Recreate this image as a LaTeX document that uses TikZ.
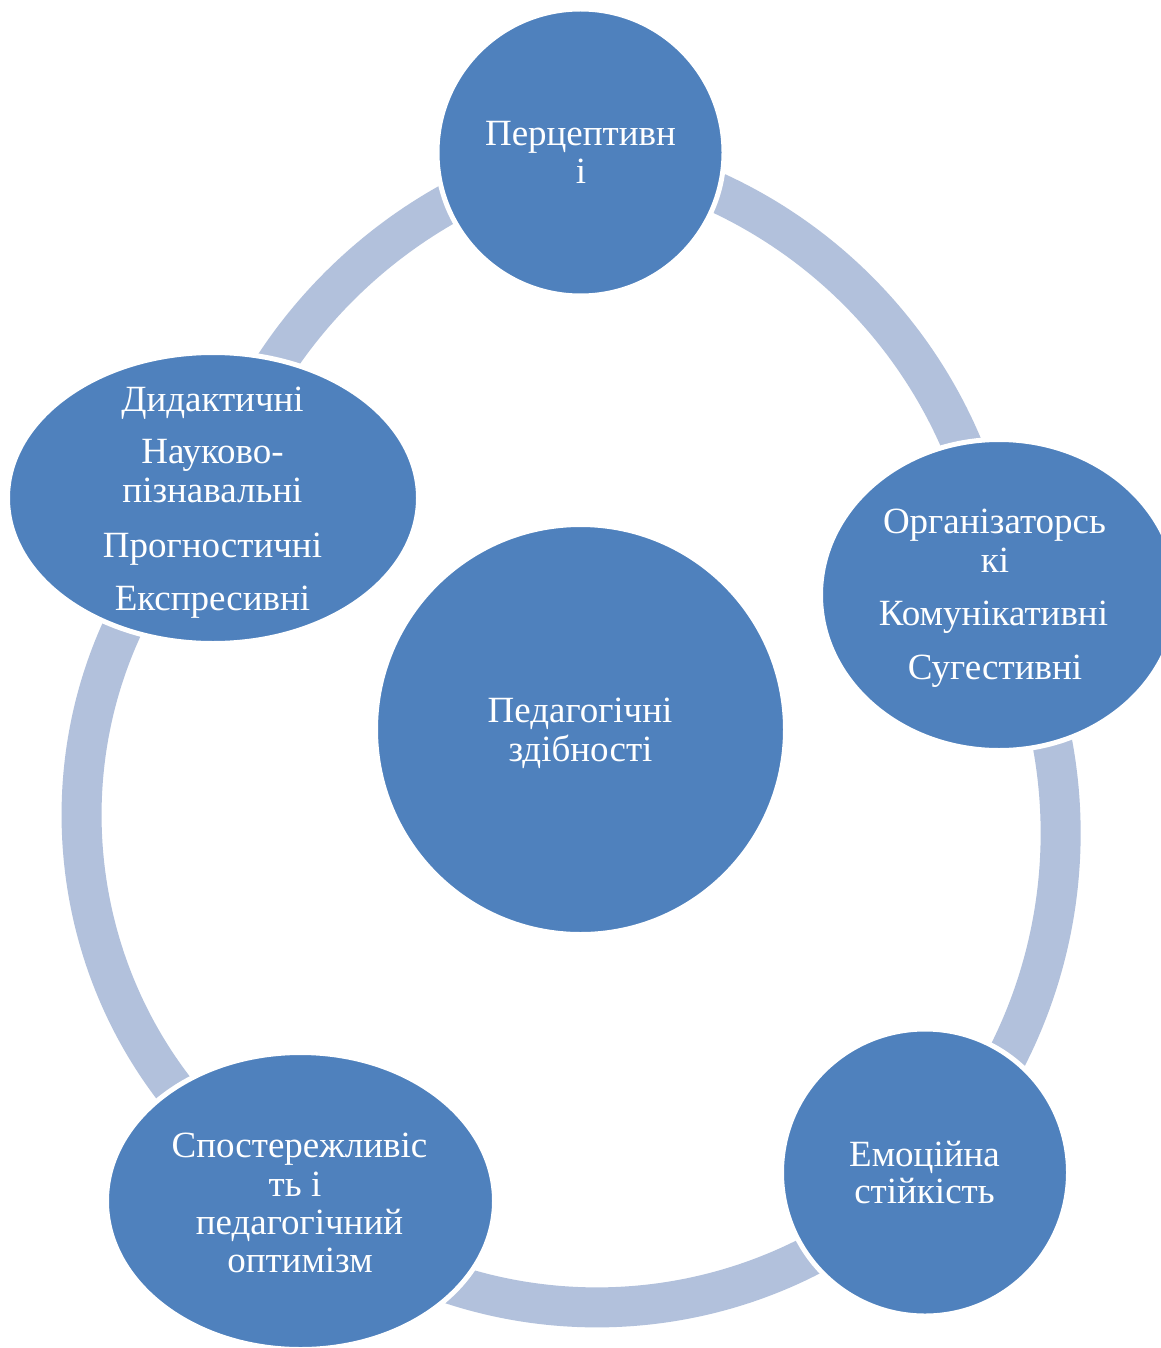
\documentclass[tikz,border=0pt]{standalone}
\usepackage{fontspec}
\setmainfont{Liberation Serif}
\usetikzlibrary{shapes.geometric}
\definecolor{nodeblue}{RGB}{79,129,189}
\definecolor{arcblue}{RGB}{178,193,220}
\pgfdeclarelayer{back}
\pgfsetlayers{back,main}
\begin{document}
\begin{tikzpicture}[x=1pt,y=-1pt,
  bubble/.style={fill=nodeblue, draw=white, line width=5pt, inner sep=0pt},
  roundbub/.style={bubble, circle},
  ovalbub/.style={bubble, ellipse},
  ring/.style={draw=arcblue, line width=40pt},
  lbl/.style={text=white, font=\fontsize{37}{42}\selectfont, inner sep=0pt, anchor=base}]
\useasboundingbox (0,0) rectangle (1160,1348);

% shapes
\node[roundbub, minimum size=410pt] (C) at (580.5,729.5) {};
\node[roundbub, minimum size=287pt] (T) at (580.5,152.5) {};
\node[ovalbub, minimum width=357pt, minimum height=311pt] (R) at (999,595) {};
\node[roundbub, minimum size=287pt] (BR) at (925,1172.5) {};
\node[ovalbub, minimum width=388pt, minimum height=297pt] (BL) at (300.5,1201) {};
\node[ovalbub, minimum width=411pt, minimum height=291pt] (L) at (213,498) {};

% connecting arcs (behind)
\begin{pgfonlayer}{back}
\fill[white] (0,0) rectangle (1160,1348);
\draw[ring] (L.center) .. controls (264.5,325.1) and (404.8,193.2) .. (T.center);
\draw[ring] (T.center) .. controls (806.2,184.1) and (980.0,367.8) .. (R.center);
\draw[ring] (R.center) .. controls (1103.2,783.0) and (1073.2,1016.8) .. (BR.center);
\draw[ring] (BR.center) .. controls (754.9,1340.8) and (485.2,1353.1) .. (BL.center);
\draw[ring] (BL.center) .. controls (49.3,1051.0) and (6.3,705.0) .. (L.center);
\end{pgfonlayer}

% texts
\node[lbl] (c1) at (580,722) {Педагогічні};
\node[lbl] (c2) at (580.5,761) {здібності};

\node[lbl] (t1) at (580.5,146) {Перцептивн};
\node[lbl] (t2) at (581,183.5) {і};

\node[lbl] (r1) at (994.5,533) {Організаторсь};
\node[lbl] (r2) at (995,572) {кі};
\node[lbl] (r3) at (993.5,625) {Комунікативні};
\node[lbl] (r4) at (995,679) {Сугестивні};

\node[lbl] (br1) at (924.5,1166) {Емоційна};
\node[lbl] (br2) at (924.5,1203) {стійкість};

\node[lbl] (bl1) at (299.5,1157) {Спостережливіс};
\node[lbl] (bl2) at (295,1196) {ть і};
\node[lbl] (bl3) at (299.5,1234) {педагогічний};
\node[lbl] (bl4) at (300,1272) {оптимізм};

\node[lbl] (l1) at (212.5,411) {Дидактичні};
\node[lbl] (l2) at (212.5,463) {Науково-};
\node[lbl] (l3) at (212.5,502) {пізнавальні};
\node[lbl] (l4) at (212.5,557) {Прогностичні};
\node[lbl] (l5) at (212.5,610) {Експресивні};
\end{tikzpicture}
\end{document}
